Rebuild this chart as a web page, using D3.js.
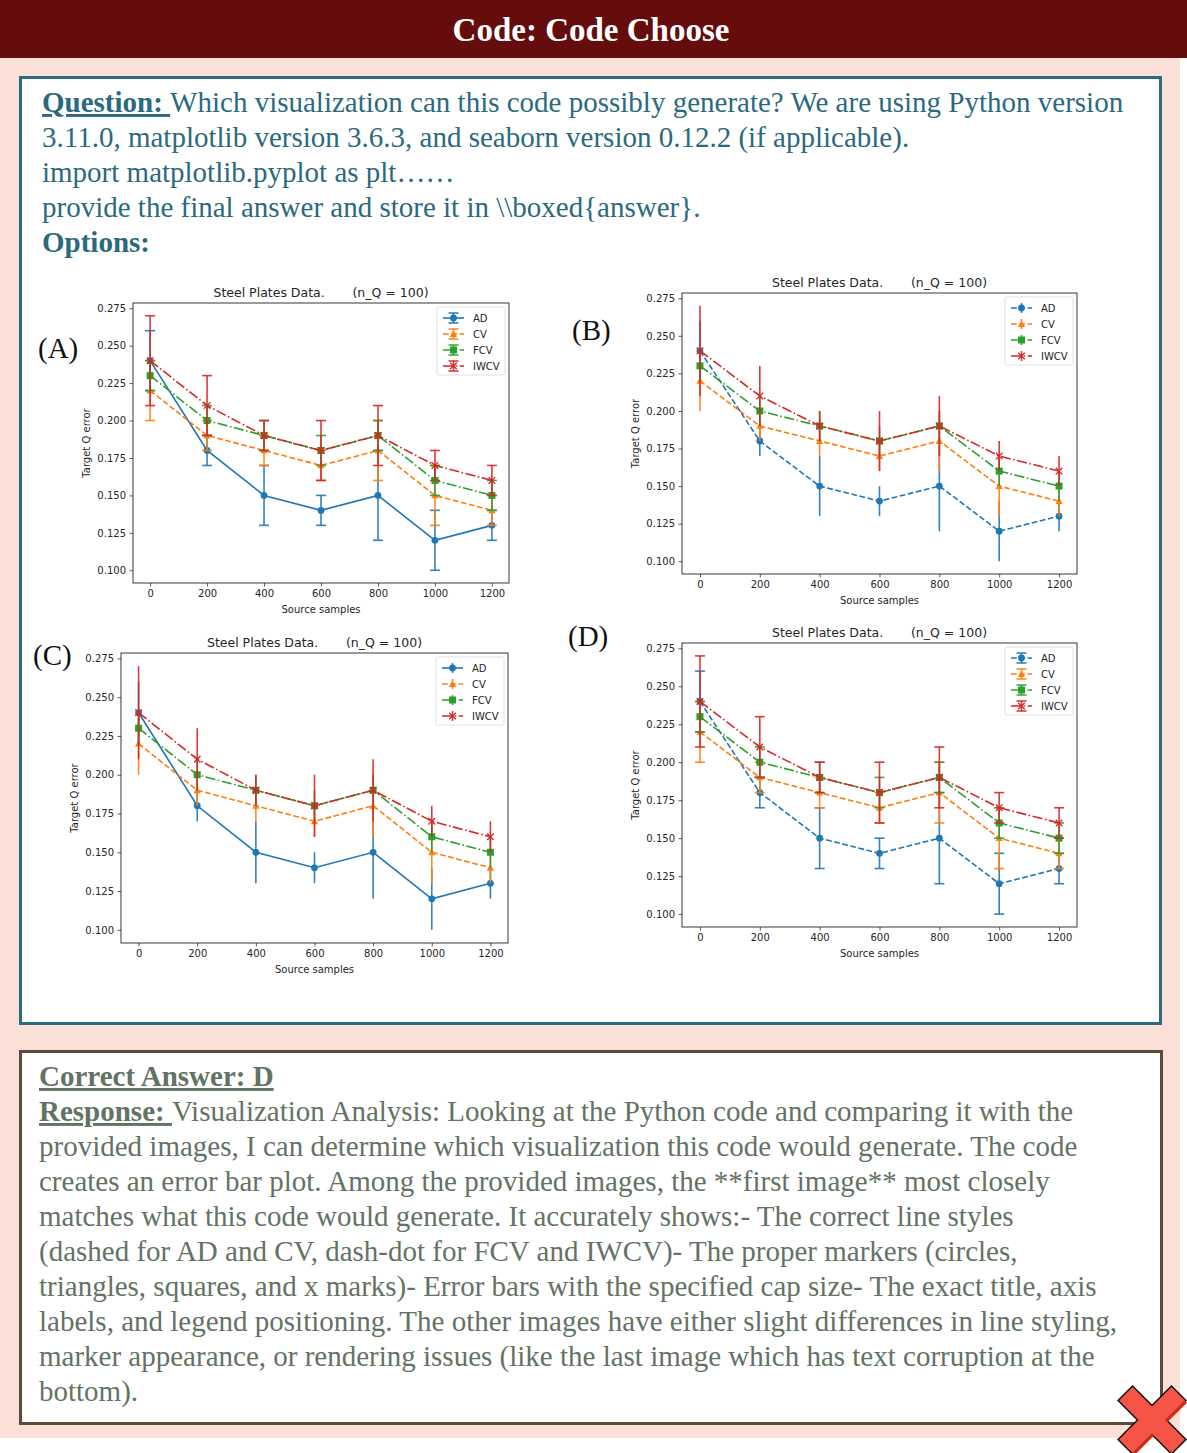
<!DOCTYPE html>
<html>
<head>
<meta charset="utf-8">
<script src="https://cdn.jsdelivr.net/npm/d3@7"></script>
<style>
body{margin:0;background:#fff}
text{white-space:pre}
</style>
</head>
<body>
<svg id="page"></svg>
<script>
const W = 1187, H = 1453;

// data (they all share the same numbers)
const xSamples = [0, 200, 400, 600, 800, 1000, 1200];
const seriesNames = ['AD', 'CV', 'FCV', 'IWCV'];
const adVals   = [0.24, 0.18, 0.15, 0.14, 0.15, 0.12, 0.13];
const adErr    = [0.02, 0.01, 0.02, 0.01, 0.03, 0.02, 0.01];
const cvVals   = [0.22, 0.19, 0.18, 0.17, 0.18, 0.15, 0.14];
const cvErr    = [0.02, 0.01, 0.01, 0.01, 0.02, 0.02, 0.01];
const fcvVals  = [0.23, 0.20, 0.19, 0.18, 0.19, 0.16, 0.15];
const fcvErr   = [0.01, 0.01, 0.01, 0.01, 0.01, 0.01, 0.01];
const iwcvVals = [0.24, 0.21, 0.19, 0.18, 0.19, 0.17, 0.16];
const iwcvErr  = [0.03, 0.02, 0.01, 0.02, 0.02, 0.01, 0.01];
const yTicks = [0.100, 0.125, 0.150, 0.175, 0.200, 0.225, 0.250, 0.275];
const optionLabels = ['(A)', '(B)', '(C)', '(D)'];

const colors = ['#1f77b4', '#ff7f0e', '#2ca02c', '#d62728'];
const markers = ['circle', 'triangle', 'square', 'x'];
const allVals = [adVals, cvVals, fcvVals, iwcvVals];
const allErr = [adErr, cvErr, fcvErr, iwcvErr];

// panel boxes (axes area) and their quirks
const panels = [
  {l:133, t:303, r:509, b:583, adDash:false, caps:true,  lx:38,  ly:358},
  {l:682, t:293, r:1077, b:574, adDash:true,  caps:false, lx:572, ly:340},
  {l:121, t:653, r:508, b:943, adDash:false, caps:false, lx:33,  ly:665},
  {l:682, t:643, r:1077, b:927, adDash:true,  caps:true,  lx:568, ly:646}
];

const svg = d3.select('#page').attr('width', W).attr('height', H);
const serif = '"Liberation Serif", "Times New Roman", serif';
const sans = '"DejaVu Sans", sans-serif';

// page frame
svg.append('rect').attr('x', 0).attr('y', 0).attr('width', W).attr('height', H).attr('fill', '#fff');
svg.append('rect').attr('x', 0).attr('y', 58).attr('width', 1180).attr('height', 1380).attr('fill', '#fae0d6');
svg.append('rect').attr('x', 0).attr('y', 0).attr('width', W).attr('height', 58).attr('fill', '#650c0c');
svg.append('text').attr('x', 591).attr('y', 41).attr('text-anchor', 'middle')
  .attr('font-family', serif).attr('font-weight', 'bold').attr('font-size', 33).attr('fill', '#fff')
  .text('Code: Code Choose');

// question box
svg.append('rect').attr('x', 20.5).attr('y', 77.5).attr('width', 1140).attr('height', 946)
  .attr('fill', '#fff').attr('stroke', '#2c6b80').attr('stroke-width', 3);

const qColor = '#2b6a7e';
const qLines = [
  [['Question: ', true], ['Which visualization can this code possibly generate? We are using Python version', false]],
  [['3.11.0, matplotlib version 3.6.3, and seaborn version 0.12.2 (if applicable).', false]],
  [['import matplotlib.pyplot as plt……', false]],
  [['provide the final answer and store it in \\\\boxed{answer}.', false]],
  [['Options:', 'b']]
];
qLines.forEach((ln, i) => {
  const t = svg.append('text').attr('x', 42).attr('y', 112 + i * 35)
    .attr('font-family', serif).attr('font-size', 29).attr('fill', qColor);
  ln.forEach(([s, st]) => {
    const sp = t.append('tspan').text(s);
    if (st) sp.attr('font-weight', 'bold');
    if (st === true) sp.attr('text-decoration', 'underline');
  });
});

// answer box
svg.append('rect').attr('x', 20.5).attr('y', 1051.5).attr('width', 1141).attr('height', 372)
  .attr('fill', '#fff').attr('stroke', '#5e4a3c').attr('stroke-width', 3);
const aColor = '#637363';
const aLines = [
  [['Correct Answer: D', true]],
  [['Response: ', true], ['Visualization Analysis: Looking at the Python code and comparing it with the', false]],
  [['provided images, I can determine which visualization this code would generate. The code', false]],
  [['creates an error bar plot. Among the provided images, the **first image** most closely', false]],
  [['matches what this code would generate. It accurately shows:- The correct line styles', false]],
  [['(dashed for AD and CV, dash-dot for FCV and IWCV)- The proper markers (circles,', false]],
  [['triangles, squares, and x marks)- Error bars with the specified cap size- The exact title, axis', false]],
  [['labels, and legend positioning. The other images have either slight differences in line styling,', false]],
  [['marker appearance, or rendering issues (like the last image which has text corruption at the', false]],
  [['bottom).', false]]
];
aLines.forEach((ln, i) => {
  const t = svg.append('text').attr('x', 39).attr('y', 1086 + i * 35)
    .attr('font-family', serif).attr('font-size', 29).attr('fill', aColor);
  ln.forEach(([s, st]) => {
    const sp = t.append('tspan').text(s);
    if (st) sp.attr('font-weight', 'bold').attr('text-decoration', 'underline');
  });
});

function drawMarker(g, kind, cx, cy, color) {
  if (kind === 'circle') {
    g.append('circle').attr('cx', cx).attr('cy', cy).attr('r', 3.4).attr('fill', color);
  } else if (kind === 'triangle') {
    const s = 3.6;
    g.append('path').attr('d', `M${cx},${cy - s}L${cx + s},${cy + s * 0.8}L${cx - s},${cy + s * 0.8}Z`).attr('fill', color);
  } else if (kind === 'square') {
    g.append('rect').attr('x', cx - 3.5).attr('y', cy - 3.5).attr('width', 7).attr('height', 7).attr('fill', color);
  } else {
    const s = 3.3;
    g.append('path').attr('d', `M${cx - s},${cy - s}L${cx + s},${cy + s}M${cx - s},${cy + s}L${cx + s},${cy - s}`)
      .attr('stroke', color).attr('stroke-width', 1.3).attr('fill', 'none');
  }
}

function dashFor(i, p) {
  if (i === 0) return p.adDash ? '5.8,2.5' : null;
  if (i === 1) return '5.8,2.5';
  return '10.1,2.5,1.6,2.5';
}

function drawPanel(p, idx) {
  const g = svg.append('g');
  const x = d3.scaleLinear().domain([-60, 1260]).range([p.l, p.r]);
  const y = d3.scaleLinear().domain([0.0915, 0.2785]).range([p.b, p.t]);

  const xa = g.append('g').attr('transform', `translate(0,${p.b})`)
    .call(d3.axisBottom(x).tickValues(xSamples).tickSize(3.5).tickPadding(3.5).tickFormat(d3.format('d')));
  const ya = g.append('g').attr('transform', `translate(${p.l},0)`)
    .call(d3.axisLeft(y).tickValues(yTicks).tickSize(3.5).tickPadding(3.5).tickFormat(d3.format('.3f')));
  [xa, ya].forEach(a => {
    a.select('.domain').remove();
    a.selectAll('text').attr('font-family', sans).attr('font-size', 10).attr('fill', '#262626');
    a.selectAll('line').attr('stroke', '#333').attr('stroke-width', 0.8);
  });

  g.append('rect').attr('x', p.l).attr('y', p.t).attr('width', p.r - p.l).attr('height', p.b - p.t)
    .attr('fill', 'none').attr('stroke', '#222').attr('stroke-width', 0.9);

  g.append('text').attr('x', (p.l + p.r) / 2).attr('y', p.t - 6).attr('text-anchor', 'middle')
    .attr('font-family', sans).attr('font-size', 12.5).attr('fill', '#262626')
    .text('Steel Plates Data.       (n_Q = 100)');
  g.append('text').attr('x', (p.l + p.r) / 2).attr('y', p.b + 30).attr('text-anchor', 'middle')
    .attr('font-family', sans).attr('font-size', 10).attr('fill', '#262626').text('Source samples');
  g.append('text').attr('transform', `translate(${p.l - 43},${(p.t + p.b) / 2}) rotate(-90)`)
    .attr('text-anchor', 'middle').attr('font-family', sans).attr('font-size', 10).attr('fill', '#262626')
    .text('Target Q error');

  const line = d3.line().x(d => x(d[0])).y(d => y(d[1]));
  allVals.forEach((vals, i) => {
    const c = colors[i];
    const pts = xSamples.map((xv, k) => [xv, vals[k]]);
    const errs = allErr[i];
    pts.forEach((d, k) => {
      const cx = x(d[0]);
      g.append('line').attr('x1', cx).attr('x2', cx).attr('y1', y(d[1] - errs[k])).attr('y2', y(d[1] + errs[k]))
        .attr('stroke', c).attr('stroke-width', 1.6).attr('opacity', 0.9);
      if (p.caps) {
        [d[1] - errs[k], d[1] + errs[k]].forEach(v => {
          g.append('line').attr('x1', cx - 5).attr('x2', cx + 5).attr('y1', y(v)).attr('y2', y(v))
            .attr('stroke', c).attr('stroke-width', 1.6).attr('opacity', 0.9);
        });
      }
    });
    g.append('path').datum(pts).attr('d', line).attr('fill', 'none').attr('stroke', c)
      .attr('stroke-width', 1.6).attr('stroke-dasharray', dashFor(i, p));
    pts.forEach(d => drawMarker(g, markers[i], x(d[0]), y(d[1]), c));
  });

  // legend
  const lw = 68, lh = 68;
  const lx = p.r - 4 - lw, ly = p.t + 4;
  g.append('rect').attr('x', lx).attr('y', ly).attr('width', lw).attr('height', lh).attr('rx', 2)
    .attr('fill', '#fff').attr('fill-opacity', 0.8).attr('stroke', '#d8d8d8').attr('stroke-width', 0.8);
  seriesNames.forEach((name, i) => {
    const cy = ly + 11 + i * 16;
    const hx0 = lx + 6, hx1 = lx + 27, hm = (hx0 + hx1) / 2;
    const c = colors[i];
    g.append('line').attr('x1', hx0).attr('x2', hx1).attr('y1', cy).attr('y2', cy)
      .attr('stroke', c).attr('stroke-width', 1.6).attr('stroke-dasharray', dashFor(i, p));
    g.append('line').attr('x1', hm).attr('x2', hm).attr('y1', cy - 5).attr('y2', cy + 5)
      .attr('stroke', c).attr('stroke-width', 1.6).attr('opacity', 0.9);
    if (p.caps) {
      [cy - 5, cy + 5].forEach(v => g.append('line').attr('x1', hm - 5).attr('x2', hm + 5).attr('y1', v).attr('y2', v)
        .attr('stroke', c).attr('stroke-width', 1.6).attr('opacity', 0.9));
    }
    drawMarker(g, markers[i], hm, cy, c);
    g.append('text').attr('x', lx + 36).attr('y', cy + 3.6).attr('font-family', sans).attr('font-size', 10)
      .attr('fill', '#262626').text(name);
  });

  svg.append('text').attr('x', p.lx).attr('y', p.ly).attr('font-family', serif).attr('font-size', 29)
    .attr('fill', '#111').text(optionLabels[idx]);
}

panels.forEach(drawPanel);

// red cross mark in the corner
const xg = svg.append('g').attr('transform', 'translate(1152,1420) rotate(45)');
const arms = [[-37, -9.5, 74, 19], [-9.5, -37, 19, 74]];
arms.forEach(a => xg.append('rect').attr('x', a[0]).attr('y', a[1]).attr('width', a[2]).attr('height', a[3])
  .attr('fill', 'none').attr('stroke', '#111').attr('stroke-width', 3));
arms.forEach(a => xg.append('rect').attr('x', a[0]).attr('y', a[1]).attr('width', a[2]).attr('height', a[3])
  .attr('fill', '#f65546'));
xg.append('rect').attr('x', 9.5).attr('y', -37).attr('width', 3).attr('height', 27.5).attr('fill', '#d9281c');
xg.append('rect').attr('x', 9.5).attr('y', 9.5).attr('width', 3).attr('height', 27.5).attr('fill', '#d9281c');
</script>
</body>
</html>
